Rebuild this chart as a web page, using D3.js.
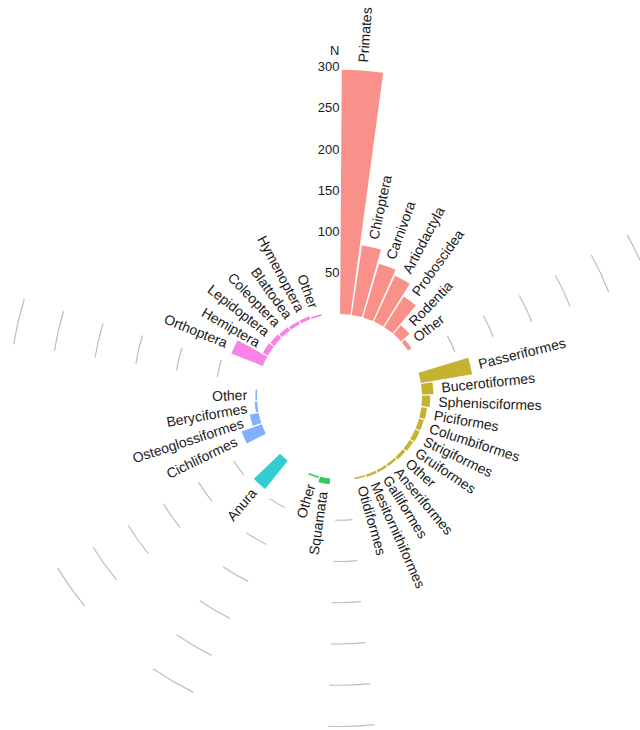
<!DOCTYPE html>
<html>
<head>
<meta charset="utf-8">
<script src="https://cdn.jsdelivr.net/npm/d3@7"></script>
<style>
  html, body { margin: 0; padding: 0; background: #ffffff; }
  svg { display: block; font-family: "Liberation Sans", Arial, Helvetica, sans-serif; }
</style>
</head>
<body>
<svg id="chart" width="640" height="730"></svg>
<script>
// Species counts per taxonomic order, grouped by class
const groupNames  = ["Mammals", "Birds", "Reptiles", "Amphibians", "Fish", "Insects"];
const groupColors = ["#F8766D", "#B79F00", "#00BA38", "#00BFC4", "#619CFF", "#F564E3"];

const mammalOrders = ["Primates", "Chiroptera", "Carnivora", "Artiodactyla", "Proboscidea", "Rodentia", "Other"];
const mammalCounts = [296, 85, 68, 61, 44, 14, 5];

const birdOrders = ["Passeriformes", "Bucerotiformes", "Sphenisciformes", "Piciformes", "Columbiformes",
                    "Strigiformes", "Gruiformes", "Other", "Anseriformes", "Galliformes",
                    "Mesitornithiformes", "Otidiformes"];
const birdCounts = [63, 14, 10, 7, 6, 6, 5, 4, 3, 3, 3, 2];

const reptileOrders = ["Squamata", "Other"];
const reptileCounts = [7, 2];

const amphibianOrders = ["Anura"];
const amphibianCounts = [44];

const fishOrders = ["Cichliformes", "Osteoglossiformes", "Beryciformes", "Other"];
const fishCounts = [26, 11, 3, 2];

const insectOrders = ["Orthoptera", "Hemiptera", "Lepidoptera", "Coleoptera", "Blattodea", "Hymenoptera", "Other"];
const insectCounts = [41, 7, 6, 5, 4, 4, 2];

const radialTicks = [50, 100, 150, 200, 250, 300];
const radialTitle = "N";
const radialTitleAt = 320;
const emptySlotsPerGroup = 2;

const groupOrders = [mammalOrders, birdOrders, reptileOrders, amphibianOrders, fishOrders, insectOrders];
const groupCounts = [mammalCounts, birdCounts, reptileCounts, amphibianCounts, fishCounts, insectCounts];

// One slot per bar, followed by a few empty slots after every group
const rows = [];
const gapStarts = [];
let slot = 0;
groupNames.forEach((g, gi) => {
  groupOrders[gi].forEach((name, k) => {
    rows.push({ group: g, gi, name, value: groupCounts[gi][k], slot: slot++ });
  });
  gapStarts.push(slot);
  slot += emptySlotsPerGroup;
});
const nSlots = slot;

const svg = d3.select("#chart");
const cx = 339.5, cy = 396.5;
const g = svg.append("g").attr("transform", `translate(${cx},${cy})`);

// polar scales: angle over slot units, radius with an empty hole below zero
const theta = d3.scaleLinear().domain([0, nSlots - 0.5]).range([0, 2 * Math.PI]);
const radius = d3.scaleLinear().domain([-100, 300]).range([0, 330]);
const color = d3.scaleOrdinal().domain(groupNames).range(groupColors);

// grid arcs inside the gaps that precede every group but the first
const gridGaps = gapStarts.slice(0, gapStarts.length - 1);
const gridData = [];
gridGaps.forEach(gs => radialTicks.forEach(t => gridData.push({ gs, t })));
g.append("g").selectAll("path")
  .data(gridData)
  .join("path")
  .attr("d", d => {
    const p = d3.path();
    const r = radius(d.t);
    p.arc(0, 0, r, theta(d.gs + 0.5) - Math.PI / 2, theta(d.gs + 1.5) - Math.PI / 2);
    return p.toString();
  })
  .attr("fill", "none")
  .attr("stroke", "#bebebe")
  .attr("stroke-width", 1.2);

// bars
const arc = d3.arc()
  .innerRadius(radius(0))
  .outerRadius(d => radius(d.value))
  .startAngle(d => theta(d.slot + 0.05))
  .endAngle(d => theta(d.slot + 0.95));

g.append("g").selectAll("path")
  .data(rows)
  .join("path")
  .attr("d", arc)
  .attr("fill", d => color(d.group))
  .attr("fill-opacity", 0.8);

// radial axis labels along the top
g.append("g").selectAll("text")
  .data(radialTicks)
  .join("text")
  .attr("x", d => radius(d) * Math.sin(theta(nSlots - 0.5)))
  .attr("y", d => -radius(d) * Math.cos(theta(nSlots - 0.5)))
  .attr("text-anchor", "end")
  .attr("dominant-baseline", "central")
  .attr("font-size", 13)
  .attr("fill", "#1a1a1a")
  .text(d => d);

g.append("text")
  .attr("x", 0)
  .attr("y", -radius(radialTitleAt))
  .attr("text-anchor", "end")
  .attr("dominant-baseline", "central")
  .attr("font-size", 13)
  .attr("fill", "#1a1a1a")
  .text(radialTitle);

// bar labels: rotated to read outward, flipped on the left half
g.append("g").selectAll("text")
  .data(rows)
  .join("text")
  .attr("transform", d => {
    const a = theta(d.slot + 0.5);
    const r = radius(d.value + 10);
    const x = r * Math.sin(a), y = -r * Math.cos(a);
    const phi = 360 * (d.slot + 0.5) / nSlots;
    const rot = phi < 180 ? phi - 90 : phi - 270;
    return `translate(${x},${y}) rotate(${rot})`;
  })
  .attr("text-anchor", d => (360 * (d.slot + 0.5) / nSlots) < 180 ? "start" : "end")
  .attr("dominant-baseline", "central")
  .attr("font-size", 14)
  .attr("fill", "#1a1a1a")
  .text(d => d.name);
</script>
</body>
</html>
